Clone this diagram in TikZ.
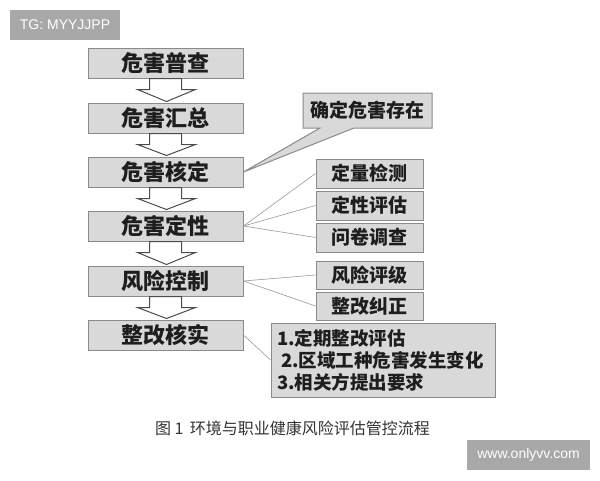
\documentclass[tikz,border=0pt]{standalone}
\usepackage{fontspec}
\setmainfont{Liberation Sans}
\newfontfamily\cjk{Noto Sans CJK SC}
\usetikzlibrary{positioning}
\usetikzlibrary{calc}
\usetikzlibrary{shapes.callouts}
\definecolor{boxfill}{HTML}{D9D9D9}
\definecolor{boxline}{HTML}{8A8A8A}
\definecolor{ink}{HTML}{1E1E1E}
\definecolor{wmgray}{HTML}{A8A8A8}
\tikzset{
	basebox/.style = {
		draw=boxline,
		fill=boxfill,
		line width=1pt,
		inner sep=0pt,
		text=ink
	},
	mainbox/.style = {
		basebox,
		minimum width=155pt,
		minimum height=30pt,
		font=\cjk\bfseries\fontsize{22}{24}\selectfont
	},
	sidebox/.style = {
		basebox,
		minimum width=107pt,
		minimum height=29pt,
		font=\cjk\bfseries\fontsize{19}{21}\selectfont
	},
	notebox/.style = {
		basebox,
		rectangle callout,
		callout pointer width=34pt,
		minimum width=129pt,
		minimum height=35pt,
		font=\cjk\bfseries\fontsize{19}{21}\selectfont
	},
	listbox/.style = {
		basebox,
		text width=212pt,
		inner xsep=6pt,
		minimum height=74pt,
		align=left,
		font=\cjk\bfseries\fontsize{18.5}{22}\selectfont
	},
	blockarrow/.style = {
		draw=black!70,
		fill=white,
		line width=1pt,
		line join=miter
	},
	link/.style = {
		draw=black!40,
		line width=0.6pt
	},
	wmbox/.style = {
		fill=wmgray,
		text=white,
		inner sep=0pt,
		minimum height=30pt,
		font=\fontsize{14}{16}\selectfont
	},
	caption/.style = {
		text=black!80,
		font=\cjk\fontsize{16}{18}\selectfont
	}
}
\begin{document}
\begin{tikzpicture}[x=1pt,y=-1pt]
\useasboundingbox[fill=white] (0,0) rectangle (600,480);
% watermarks
\node [wmbox, minimum width=110pt] (tg) at (65,25) {TG: MYYJJPP};
\node [wmbox, minimum width=123pt] (web) at (528.5,455) {www.onlyvv.com};
% main chain
\node [mainbox] (pc) at (165.5,63) {危害普查};
\node [mainbox, below=24pt of pc] (hz) {危害汇总};
\node [mainbox, below=23pt of hz] (hd) {危害核定};
\node [mainbox, below=23pt of hd] (dx) {危害定性};
\node [mainbox, below=24pt of dx] (fk) {风险控制};
\node [mainbox, below=23pt of fk] (zh) {整改核实};
\foreach \a/\b in {pc/hz,hz/hd,hd/dx,dx/fk,fk/zh}
	\draw [blockarrow] ($(\a.south)+(-16pt,0pt)$) -- ($(\a.south)+(-16pt,-11pt)$)
		-- ($(\a.south)+(-28pt,-11pt)$) -- ($(\b.north)+(1pt,1pt)$)
		-- ($(\a.south)+(30pt,-11pt)$) -- ($(\a.south)+(16pt,-11pt)$)
		-- ($(\a.south)+(16pt,0pt)$) -- cycle;
% side notes
\node [notebox, callout absolute pointer={(hd.east)}] (qd) at (367.5,110.5) {确定危害存在};
\node [sidebox] (dl) at (369.5,173.5) {定量检测};
\node [sidebox, below=2pt of dl] (dp) {定性评估};
\node [sidebox, below=2pt of dp] (wj) {问卷调查};
\node [sidebox, minimum height=28pt, below=8pt of wj] (pj) {风险评级};
\node [sidebox, minimum height=28pt, below=2pt of pj] (jz) {整改纠正};
\node [listbox] (ls) at (383,360) {1.定期整改评估\\\hspace*{4pt}2.区域工种危害发生变化\\3.相关方提出要求};
\foreach \t in {dl,dp,wj}
	\draw [link] (dx.east) -- (\t.west);
\foreach \t in {pj,jz}
	\draw [link] (fk.east) -- (\t.west);
\draw [link] (zh.east) -- (ls.west);
% caption
\node [caption] (cap) at (292.5,428) {图 1\hspace{0.4em}环境与职业健康风险评估管控流程};
\end{tikzpicture}
\end{document}
